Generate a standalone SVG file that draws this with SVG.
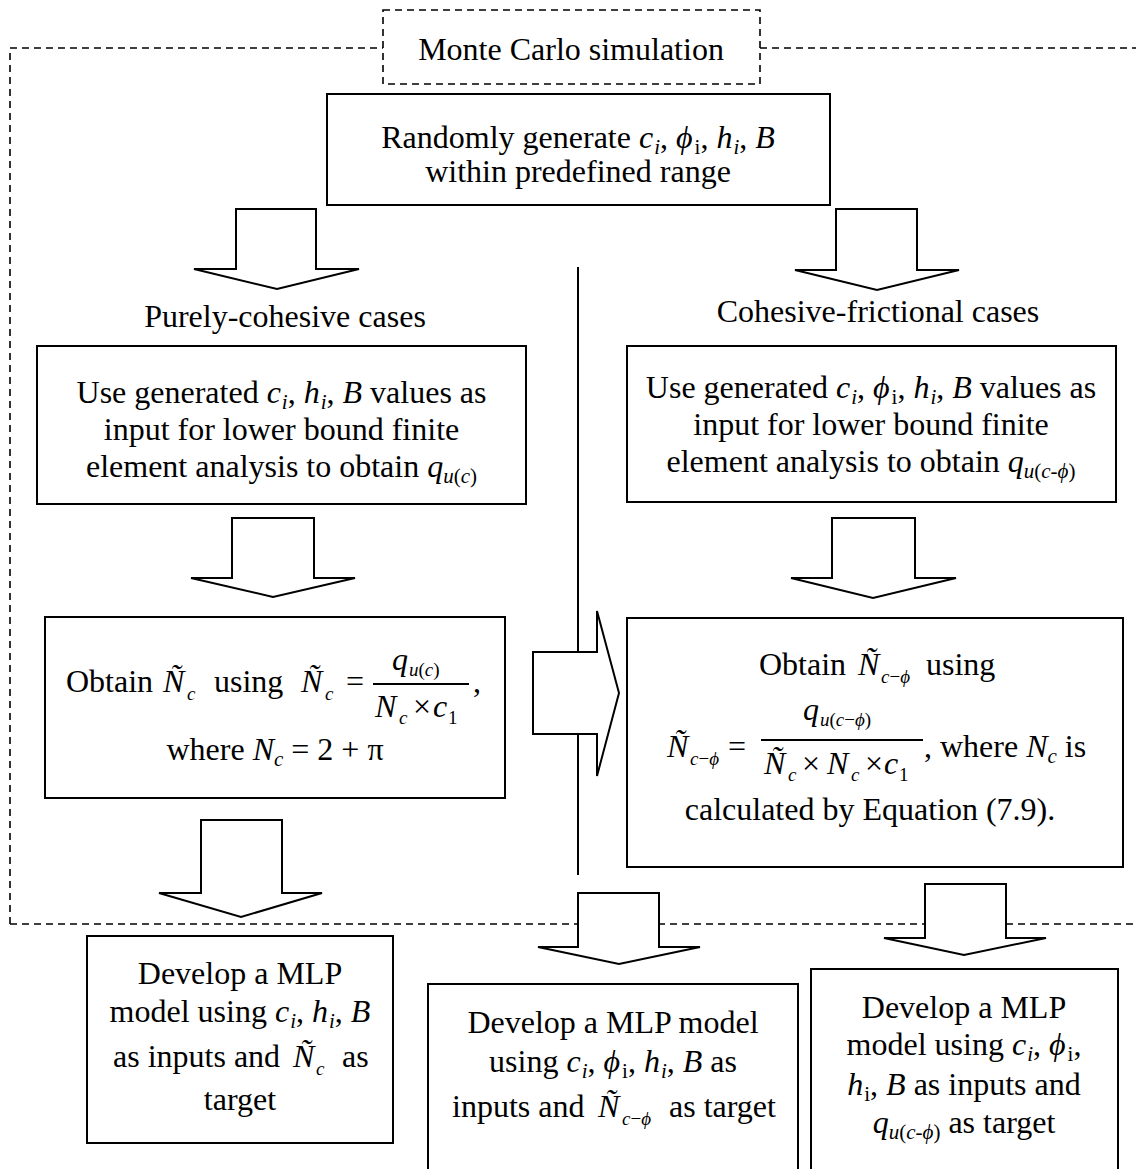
<svg xmlns="http://www.w3.org/2000/svg" width="1136" height="1169" viewBox="0 0 1136 1169">
<style>
.t{font-family:"Liberation Serif","Times New Roman",serif;font-size:32px;fill:#000}
.m{text-anchor:middle}
.i{font-style:italic}
.s{font-size:21px}
.ms{font-size:19px;font-style:italic}
.mr{font-size:19px;font-style:normal}
.box{fill:#fff;stroke:#000;stroke-width:2}
.arr{fill:#fff;stroke:#000;stroke-width:2;stroke-linejoin:miter}
.dash{fill:none;stroke:#000;stroke-width:1.6;stroke-dasharray:7 5}
.ln{fill:none;stroke:#000;stroke-width:2}
</style>
<rect width="1136" height="1169" fill="#fff"/>
<g id="frame">
<path class="dash" d="M10,924 V48 H383 M760,48 H1136 M10,924 H1136"/>
</g>
<g id="monte-carlo">
<rect class="dash" x="383" y="10" width="377" height="74" fill="#fff"/>
<text class="t m" x="571" y="60">Monte Carlo simulation</text>
</g>
<g id="connectors">
<line class="ln" x1="578" y1="267" x2="578" y2="875"/>
<path class="arr" d="M236,209 H316 V269 H359 L277,289 L194,269 H236 Z"/>
<path class="arr" d="M836,209 H917 V270 H959 L877,290 L795,270 H836 Z"/>
<path class="arr" d="M232,518 H314 V578 H355 L273,597 L191,578 H232 Z"/>
<path class="arr" d="M832,518 H915 V578 H956 L873,598 L791,578 H832 Z"/>
<path class="arr" d="M533,652 H597 V611 L619,693 L597,776 V734 H533 Z"/>
<path class="arr" d="M201,820 H282 V893 H322 L241,917 L159,893 H201 Z"/>
<path class="arr" d="M578,893 H659 V947 H700 L619,964 L538,947 H578 Z"/>
<path class="arr" d="M925,884 H1006 V938 H1046 L964,955 L884,938 H925 Z"/>
</g>
<g id="generate">
<rect class="box" x="327" y="94" width="503" height="111"/>
<text class="t m" x="578" y="148">Randomly generate <tspan class="i">c</tspan><tspan class="s i" dx="1" dy="6">i</tspan><tspan dy="-6">, </tspan><tspan class="i">ϕ</tspan><tspan class="s" dx="2" dy="6">i</tspan><tspan dy="-6">, </tspan><tspan class="i">h</tspan><tspan class="s i" dx="1" dy="6">i</tspan><tspan dy="-6">, </tspan><tspan class="i">B</tspan></text>
<text class="t m" x="578" y="182">within predefined range</text>
</g>
<g id="label-cohesive">
<text class="t m" x="285" y="327">Purely-cohesive cases</text>
</g>
<g id="label-frictional">
<text class="t m" x="878" y="322">Cohesive-frictional cases</text>
</g>
<g id="fe-cohesive">
<rect class="box" x="37" y="346" width="489" height="158"/>
<text class="t m" x="281.5" y="403">Use generated <tspan class="i">c</tspan><tspan class="s i" dx="1" dy="6">i</tspan><tspan dy="-6">, </tspan><tspan class="i">h</tspan><tspan class="s i" dx="1" dy="6">i</tspan><tspan dy="-6">, </tspan><tspan class="i">B</tspan> values as</text>
<text class="t m" x="281.5" y="440">input for lower bound finite</text>
<text class="t m" x="281.5" y="477">element analysis to obtain <tspan class="i">q</tspan><tspan class="s" dy="6"><tspan class="i">u</tspan>(<tspan class="i">c</tspan>)</tspan></text>
</g>
<g id="fe-frictional">
<rect class="box" x="627" y="346" width="489" height="156"/>
<text class="t m" x="871" y="398">Use generated <tspan class="i">c</tspan><tspan class="s i" dx="1" dy="6">i</tspan><tspan dy="-6">, </tspan><tspan class="i">ϕ</tspan><tspan class="s" dx="2" dy="6">i</tspan><tspan dy="-6">, </tspan><tspan class="i">h</tspan><tspan class="s i" dx="1" dy="6">i</tspan><tspan dy="-6">, </tspan><tspan class="i">B</tspan> values as</text>
<text class="t m" x="871" y="435">input for lower bound finite</text>
<text class="t m" x="871" y="472">element analysis to obtain <tspan class="i">q</tspan><tspan class="s" dy="6"><tspan class="i">u</tspan>(<tspan class="i">c</tspan>-<tspan class="i">ϕ</tspan>)</tspan></text>
</g>
<g id="nc-cohesive">
<rect class="box" x="45" y="617" width="460" height="181"/>
<text class="t" x="66" y="692">Obtain</text>
<text class="t i" x="163" y="692">Ñ</text>
<text class="t ms" x="187" y="700">c</text>
<text class="t" x="214" y="692">using</text>
<text class="t i" x="301" y="692">Ñ</text>
<text class="t ms" x="325" y="700">c</text>
<text class="t" x="346" y="692">=</text>
<line class="ln" x1="373" y1="684" x2="469" y2="684"/>
<text class="t i" x="392" y="670">q</text>
<text class="t ms" x="409" y="676">u<tspan font-style="normal">(</tspan>c<tspan font-style="normal">)</tspan></text>
<text class="t i" x="375" y="717">N</text>
<text class="t ms" x="399" y="724">c</text>
<text class="t" x="413" y="717">×</text>
<text class="t i" x="433" y="717">c</text>
<text class="t mr" x="448" y="724">1</text>
<text class="t" x="473" y="692">,</text>
<text class="t m" x="275" y="760">where <tspan class="i">N</tspan><tspan class="s i" dy="6">c</tspan><tspan dy="-6"> = 2 + π</tspan></text>
</g>
<g id="nc-frictional">
<rect class="box" x="627" y="618" width="496" height="249"/>
<text class="t" x="759" y="675">Obtain</text>
<text class="t i" x="858" y="675">Ñ</text>
<text class="t ms" x="881" y="683">c<tspan font-style="normal">−</tspan>ϕ</text>
<text class="t" x="926" y="675">using</text>
<text class="t i" x="667" y="757">Ñ</text>
<text class="t ms" x="690" y="765">c<tspan font-style="normal">−</tspan>ϕ</text>
<text class="t" x="728" y="757">=</text>
<line class="ln" x1="761" y1="740" x2="923" y2="740"/>
<text class="t i" x="803" y="720">q</text>
<text class="t ms" x="820" y="726">u<tspan font-style="normal">(</tspan>c<tspan font-style="normal">−</tspan>ϕ<tspan font-style="normal">)</tspan></text>
<text class="t i" x="764" y="774">Ñ</text>
<text class="t ms" x="788" y="781">c</text>
<text class="t" x="802" y="774">×</text>
<text class="t i" x="827" y="774">N</text>
<text class="t ms" x="851" y="781">c</text>
<text class="t" x="865" y="774">×</text>
<text class="t i" x="884" y="774">c</text>
<text class="t mr" x="899" y="781">1</text>
<text class="t" x="924" y="757">, where <tspan class="i">N</tspan><tspan class="s i" dy="6">c</tspan><tspan dy="-6"> is</tspan></text>
<text class="t m" x="870" y="820">calculated by Equation (7.9).</text>
</g>
<g id="mlp-nc">
<rect class="box" x="87" y="936" width="306" height="207"/>
<text class="t m" x="240" y="984">Develop a MLP</text>
<text class="t m" x="240" y="1022">model using <tspan class="i">c</tspan><tspan class="s i" dx="1" dy="6">i</tspan><tspan dy="-6">, </tspan><tspan class="i">h</tspan><tspan class="s i" dx="1" dy="6">i</tspan><tspan dy="-6">, </tspan><tspan class="i">B</tspan></text>
<text class="t" x="113" y="1067">as inputs and</text>
<text class="t i" x="293" y="1067">Ñ</text>
<text class="t ms" x="316" y="1075">c</text>
<text class="t" x="342" y="1067">as</text>
<text class="t m" x="240" y="1110">target</text>
</g>
<g id="mlp-ncphi">
<rect class="box" x="428" y="984" width="370" height="195"/>
<text class="t m" x="613" y="1033">Develop a MLP model</text>
<text class="t m" x="613" y="1072">using <tspan class="i">c</tspan><tspan class="s i" dx="1" dy="6">i</tspan><tspan dy="-6">, </tspan><tspan class="i">ϕ</tspan><tspan class="s" dx="2" dy="6">i</tspan><tspan dy="-6">, </tspan><tspan class="i">h</tspan><tspan class="s i" dx="1" dy="6">i</tspan><tspan dy="-6">, </tspan><tspan class="i">B</tspan> as</text>
<text class="t" x="452" y="1117">inputs and</text>
<text class="t i" x="598" y="1117">Ñ</text>
<text class="t ms" x="622" y="1125">c<tspan font-style="normal">−</tspan>ϕ</text>
<text class="t" x="669" y="1117">as target</text>
</g>
<g id="mlp-qu">
<rect class="box" x="811" y="969" width="307" height="210"/>
<text class="t m" x="964" y="1018">Develop a MLP</text>
<text class="t m" x="964" y="1055">model using <tspan class="i">c</tspan><tspan class="s i" dx="1" dy="6">i</tspan><tspan dy="-6">, </tspan><tspan class="i">ϕ</tspan><tspan class="s" dx="2" dy="6">i</tspan><tspan dy="-6">,</tspan></text>
<text class="t m" x="964" y="1095"><tspan class="i">h</tspan><tspan class="s" dx="1" dy="6">i</tspan><tspan dy="-6">, </tspan><tspan class="i">B</tspan> as inputs and</text>
<text class="t m" x="964" y="1133"><tspan class="i">q</tspan><tspan class="s" dy="6"><tspan class="i">u</tspan>(<tspan class="i">c</tspan>-<tspan class="i">ϕ</tspan>)</tspan><tspan dy="-6"> as target</tspan></text>
</g>
</svg>
